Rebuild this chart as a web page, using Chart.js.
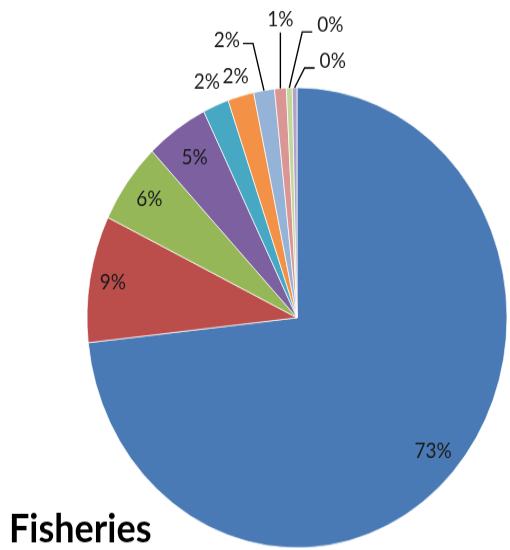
<!DOCTYPE html>
<html>
<head>
<meta charset="utf-8">
<script src="https://cdn.jsdelivr.net/npm/chart.js@4/dist/chart.umd.min.js"></script>
<style>
  html, body { margin: 0; padding: 0; background: #ffffff; }
  #wrap { position: absolute; left: 0; top: 0; width: 510px; height: 502px;
          transform: scaleY(1.0956); transform-origin: 0 0; }
  canvas { display: block; }
</style>
</head>
<body>
<div id="wrap"><canvas id="c" width="510" height="502"></canvas></div>
<script>
// ---- data ----
const categories = ['Cat 1','Cat 2','Cat 3','Cat 4','Cat 5','Cat 6','Cat 7','Cat 8','Cat 9','Cat 10'];
const values = [73.2, 8.9, 5.7, 4.8, 2.0, 2.0, 1.6, 0.9, 0.45, 0.36];
const chartTitle = 'Fisheries';

// ---- styles ----
const colors = ['#4A7AB5','#BB4D4A','#96B757','#7D60A0','#46A8C2','#F39146',
                '#95B3D7','#D99694','#C3D69B','#B2A2C7'];
// label placement per slice (style, not data)
const labelLayout = [
  {type:'in', r:0.87}, {type:'in', r:0.89}, {type:'in', r:0.87}, {type:'in', r:0.85},
  {type:'out', r:1.11}, {type:'out', r:1.09},
  {type:'leader', elbow:[-11,-43], tail:-10, align:'right', ty:-3},
  {type:'leader', elbow:[0,-51], tail:0, align:'center', ty:-12},
  {type:'leader', elbow:[13,-51], tail:10, align:'left', ty:-6},
  {type:'leader', elbow:[10,-18], tail:10, align:'left', ty:-6}
];

const labelPlugin = {
  id: 'sliceLabels',
  afterDatasetsDraw(chart) {
    const ctx = chart.ctx;
    const meta = chart.getDatasetMeta(0);
    const total = values.reduce((a, b) => a + b, 0);
    ctx.save();
    ctx.font = '19px Lato';
    ctx.fillStyle = '#1a1a1a';
    ctx.strokeStyle = '#000000';
    ctx.lineWidth = 1.4;
    meta.data.forEach((arc, i) => {
      const p = arc.getProps(['x','y','startAngle','endAngle','outerRadius'], true);
      const mid = (p.startAngle + p.endAngle) / 2;
      const txt = Math.round(values[i] / total * 100) + '%';
      const L = labelLayout[i];
      if (L.type === 'in' || L.type === 'out') {
        const tx = p.x + Math.cos(mid) * p.outerRadius * L.r;
        const ty = p.y + Math.sin(mid) * p.outerRadius * L.r;
        ctx.textAlign = 'center';
        ctx.textBaseline = 'middle';
        ctx.fillText(txt, tx, ty);
      } else {
        const ex = p.x + Math.cos(mid) * p.outerRadius;
        const ey = p.y + Math.sin(mid) * p.outerRadius;
        const bx = ex + L.elbow[0], by = ey + L.elbow[1];
        const hx = bx + L.tail;
        ctx.beginPath();
        ctx.moveTo(ex, ey);
        ctx.lineTo(bx, by);
        ctx.lineTo(hx, by);
        ctx.stroke();
        ctx.textBaseline = 'middle';
        ctx.textAlign = L.align;
        let tx = hx;
        if (L.align === 'right') tx = hx - 3;
        if (L.align === 'left') tx = hx + 5;
        ctx.fillText(txt, tx, by + L.ty);
      }
    });
    // title at bottom-left
    ctx.font = 'bold 36px Lato';
    ctx.fillStyle = '#000000';
    ctx.textAlign = 'left';
    ctx.textBaseline = 'alphabetic';
    ctx.fillText(chartTitle, 9, 494.5);
    ctx.restore();
  }
};

new Chart(document.getElementById('c'), {
  type: 'pie',
  data: {
    labels: categories,
    datasets: [{
      data: values,
      backgroundColor: colors,
      borderColor: 'rgba(255,255,255,0.7)',
      borderWidth: 1
    }]
  },
  options: {
    responsive: false,
    animation: false,
    layout: { padding: { left: 86.5, right: 2.5, top: 79.5, bottom: 1.5 } },
    plugins: {
      legend: { display: false },
      tooltip: { enabled: false },
      title: { display: false }
    }
  },
  plugins: [labelPlugin]
});
</script>
</body>
</html>
